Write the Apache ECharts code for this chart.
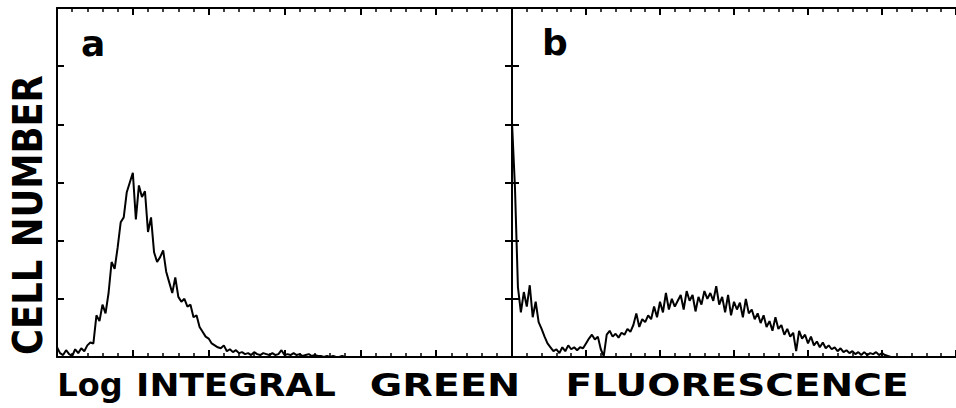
<!DOCTYPE html>
<html>
<head>
<meta charset="utf-8">
<script src="https://cdn.jsdelivr.net/npm/echarts@6/dist/echarts.min.js"></script>
<style>
html,body{margin:0;padding:0;background:#fff;}
#chart{width:956px;height:408px;}
</style>
</head>
<body>
<div id="chart"></div>
<script>
// Histogram counts per channel, y axis 0..360
const panelALabel = 'a';
const panelBLabel = 'b';
const yAxisTitle = 'CELL NUMBER';
const xAxisWords = ['Log', 'INTEGRAL', 'GREEN', 'FLUORESCENCE'];

const countsA = [
  10,4,2,7,3,1,8,4,9,6,
  12,15,14,43,37,54,45,66,98,91,
  113,139,144,170,180,190,142,177,165,171,
  129,144,108,98,103,110,88,77,66,82,
  62,57,60,52,54,41,43,31,26,21,
  19,14,12,10,9,12,6,8,5,7,
  4,5,3,4,2,5,3,2,4,3,
  2,4,2,3,7,2,3,2,4,2,
  3,1,2,3,1,2,1,1,0,1,
  0,1,0,0,1,0,0,0,0,0,
  0,0,0,0,0,0,0,0,0,0,
  0,0,0,0,0,0,0,0,0,0,
  0,0,0,0,0,0,0,0,0,0,
  0,0,0,0,0,0,0,0,0,0,
  0,0,0,0,0,0,0,0,0,0
];

const countsB = [
  242,175,72,46,67,52,74,41,57,36,
  29,21,14,10,6,8,4,10,6,12,
  8,10,7,10,9,14,19,23,18,21,
  8,1,23,27,21,24,20,25,23,29,
  26,33,45,31,39,36,43,39,52,41,
  57,46,66,49,60,52,58,64,49,68,
  58,64,47,62,54,68,60,66,58,73,
  54,62,46,64,43,57,49,56,41,60,
  45,49,39,45,35,43,31,37,27,41,
  29,33,23,29,21,25,6,27,19,23,
  14,21,12,16,10,15,9,12,8,10,
  6,9,5,7,4,6,3,5,2,5,
  2,4,3,5,2,4,2,1,0,0,
  0,0,0,0,0,0,0,0,0,0,
  0,0,0,0,0,0,0,0,0,0
];

const chart = echarts.init(document.getElementById('chart'), null, {renderer:'svg', width:956, height:408});

const BLACK = '#000';
function xAx(grid, pos) {
  return {
    type:'value', gridIndex:grid, position:pos, min:0, max:150, interval:25,
    axisLine:{show:true, onZero:false, lineStyle:{color:BLACK, width:2}},
    axisTick:{show:true, inside:true, length:7, lineStyle:{color:BLACK, width:2}},
    minorTick:{show:true, splitNumber:5, length:4, lineStyle:{color:BLACK, width:1.5}},
    axisLabel:{show:false}, splitLine:{show:false}, minorSplitLine:{show:false}
  };
}
function yAx(grid, pos) {
  return {
    type:'value', gridIndex:grid, position:pos, min:0, max:360, interval:60,
    axisLine:{show:true, onZero:false, lineStyle:{color:BLACK, width:2}},
    axisTick:{show:true, inside:true, length:7, lineStyle:{color:BLACK, width:2}},
    axisLabel:{show:false}, splitLine:{show:false}
  };
}

const mc = document.createElement('canvas').getContext('2d');
function fitScale(text, font, target) {
  mc.font = font;
  return target / mc.measureText(text).width;
}
const bottomFont = 'bold 32px "DejaVu Sans"';
const bottomCenters = [90, 236, 445, 737];
const bottomScales = [1.0, 1.12, 1.24, 1.22];
const bottomTexts = xAxisWords.map((w,i) => ({
  type:'text', x:bottomCenters[i], y:385, scaleX:bottomScales[i],
  style:{text:w, font:bottomFont, fill:BLACK, align:'center', verticalAlign:'middle'}
}));
const yFont = 'bold 40px "DejaVu Sans"';

chart.setOption({
  animation:false,
  backgroundColor:'#fff',
  grid:[
    {left:57, top:8, width:455, height:349},
    {left:512, top:8, width:455, height:349}
  ],
  xAxis:[xAx(0,'bottom'), xAx(0,'top'), xAx(1,'bottom'), xAx(1,'top')],
  yAxis:[yAx(0,'left'), yAx(0,'right'), yAx(1,'left')],
  series:[
    {type:'line', xAxisIndex:0, yAxisIndex:0, symbol:'none', showSymbol:false,
     lineStyle:{color:BLACK, width:2}, data:countsA.map((v,i)=>[i,v]), z:3},
    {type:'line', xAxisIndex:2, yAxisIndex:2, symbol:'none', showSymbol:false,
     lineStyle:{color:BLACK, width:2}, data:countsB.map((v,i)=>[i,v]), z:3}
  ],
  graphic:[
    {type:'text', x:81, y:43, style:{text:panelALabel, font:'bold 36px "DejaVu Sans"', fill:BLACK, verticalAlign:'middle'}},
    {type:'text', x:542, y:42, style:{text:panelBLabel, font:'bold 36px "DejaVu Sans"', fill:BLACK, verticalAlign:'middle'}},
    {type:'text', x:28, y:215, rotation:Math.PI/2, scaleX:fitScale(yAxisTitle, yFont, 280),
     style:{text:yAxisTitle, font:yFont, fill:BLACK, align:'center', verticalAlign:'middle'}}
  ].concat(bottomTexts)
});
</script>
</body>
</html>
